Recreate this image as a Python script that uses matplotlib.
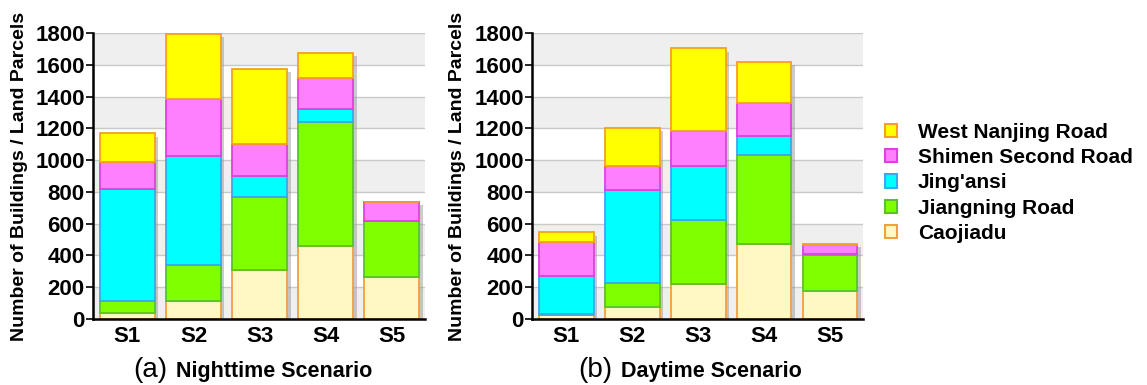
import numpy as np
import matplotlib.pyplot as plt
from matplotlib.patches import Patch
from matplotlib import patheffects as pe

plt.rcParams['font.family'] = ['Liberation Sans', 'DejaVu Sans']

scenarios = ['S1', 'S2', 'S3', 'S4', 'S5']
areas = ['Caojiadu', 'Jiangning Road', "Jing'ansi", 'Shimen Second Road', 'West Nanjing Road']

# nighttime, bottom to top
night_caojiadu = [38, 111, 306, 457, 264]
night_jiangning = [73, 226, 459, 786, 350]
night_jingansi = [709, 692, 138, 78, 5]
night_shimen = [171, 357, 198, 195, 115]
night_westnanjing = [179, 409, 473, 161, 5]

# daytime, bottom to top
day_caojiadu = [25, 75, 220, 474, 175]
day_jiangning = [5, 151, 405, 559, 229]
day_jingansi = [238, 587, 341, 116, 3]
day_shimen = [216, 153, 220, 210, 56]
day_westnanjing = [63, 239, 519, 261, 9]

face = ['#FFF8C4', '#80FF00', '#00FFFF', '#FF80FF', '#FFFF00']
edge = ['#F0A040', '#5CC02A', '#3AA8F0', '#E040E0', '#F5A020']

W, H = 1147, 385
fig = plt.figure(figsize=(W / 100, H / 100), dpi=100)


def draw_panel(ax, series, label_x):
    ymax = 1800
    for k in range(0, ymax, 200):
        if (k // 200) % 2 == 0:
            ax.axhspan(k, k + 200, color='#EFEFEF', zorder=0, lw=0)
        ax.axhline(k + 200, color='#C9C9C9', lw=1.0, zorder=0.5)
    x = np.arange(len(scenarios))
    total = np.sum(series, axis=0)
    ax.bar(x, total, width=0.83, color='none', lw=0, zorder=1,
           path_effects=[pe.SimplePatchShadow(offset=(2.5, -2.5), shadow_rgbFace='#999999', alpha=0.5)])
    bottom = np.zeros(len(scenarios))
    for vals, fc, ec in zip(series, face, edge):
        ax.bar(x, vals, bottom=bottom, width=0.83, color=fc, edgecolor=ec, lw=1.3, zorder=2)
        bottom += np.array(vals)
    ax.set_xlim(-0.52, 4.5)
    ax.set_ylim(0, ymax)
    ax.set_yticks(range(0, ymax + 1, 200))
    ax.set_xticks(x)
    ax.set_xticklabels(scenarios)
    for s in ['top', 'right']:
        ax.spines[s].set_visible(False)
    for s in ['left', 'bottom']:
        ax.spines[s].set_linewidth(1.8)
        ax.spines[s].set_zorder(3)
    ax.tick_params(axis='y', length=5, width=1.2, labelsize=16, pad=1)
    ax.tick_params(axis='x', length=0, labelsize=16, pad=5)
    for lab in ax.get_xticklabels() + ax.get_yticklabels():
        lab.set_fontweight('bold')
    ax.set_ylabel('Number of Buildings / Land Parcels', fontsize=14, fontweight='bold')
    ax.yaxis.set_label_coords(label_x, 0.5)


ax1 = fig.add_axes([93 / W, 1 - 319 / H, 332 / W, 286 / H])
draw_panel(ax1, [night_caojiadu, night_jiangning, night_jingansi, night_shimen, night_westnanjing], -0.196)
ax2 = fig.add_axes([532 / W, 1 - 319 / H, 331 / W, 286 / H])
draw_panel(ax2, [day_caojiadu, day_jiangning, day_jingansi, day_shimen, day_westnanjing], -0.2)

# panel captions
fig.text(133 / W, 1 - 377 / H, '(a)', fontsize=20, va='baseline')
fig.text(176 / W, 1 - 377 / H, 'Nighttime Scenario', fontsize=15.5, fontweight='bold', va='baseline')
fig.text(578 / W, 1 - 377 / H, '(b)', fontsize=20, va='baseline')
fig.text(621 / W, 1 - 377 / H, 'Daytime Scenario', fontsize=15.5, fontweight='bold', va='baseline')

handles = [Patch(facecolor=face[i], edgecolor=edge[i], lw=1.5, label=areas[i]) for i in range(4, -1, -1)]
leg = fig.legend(handles=handles, loc='upper left', bbox_to_anchor=(866 / W, 1 - 104 / H),
                 frameon=False, handlelength=0.6, handleheight=0.6, handletextpad=1.0,
                 labelspacing=0.3, prop={'size': 15, 'weight': 'bold'})

fig.savefig('out.png', dpi=100)
